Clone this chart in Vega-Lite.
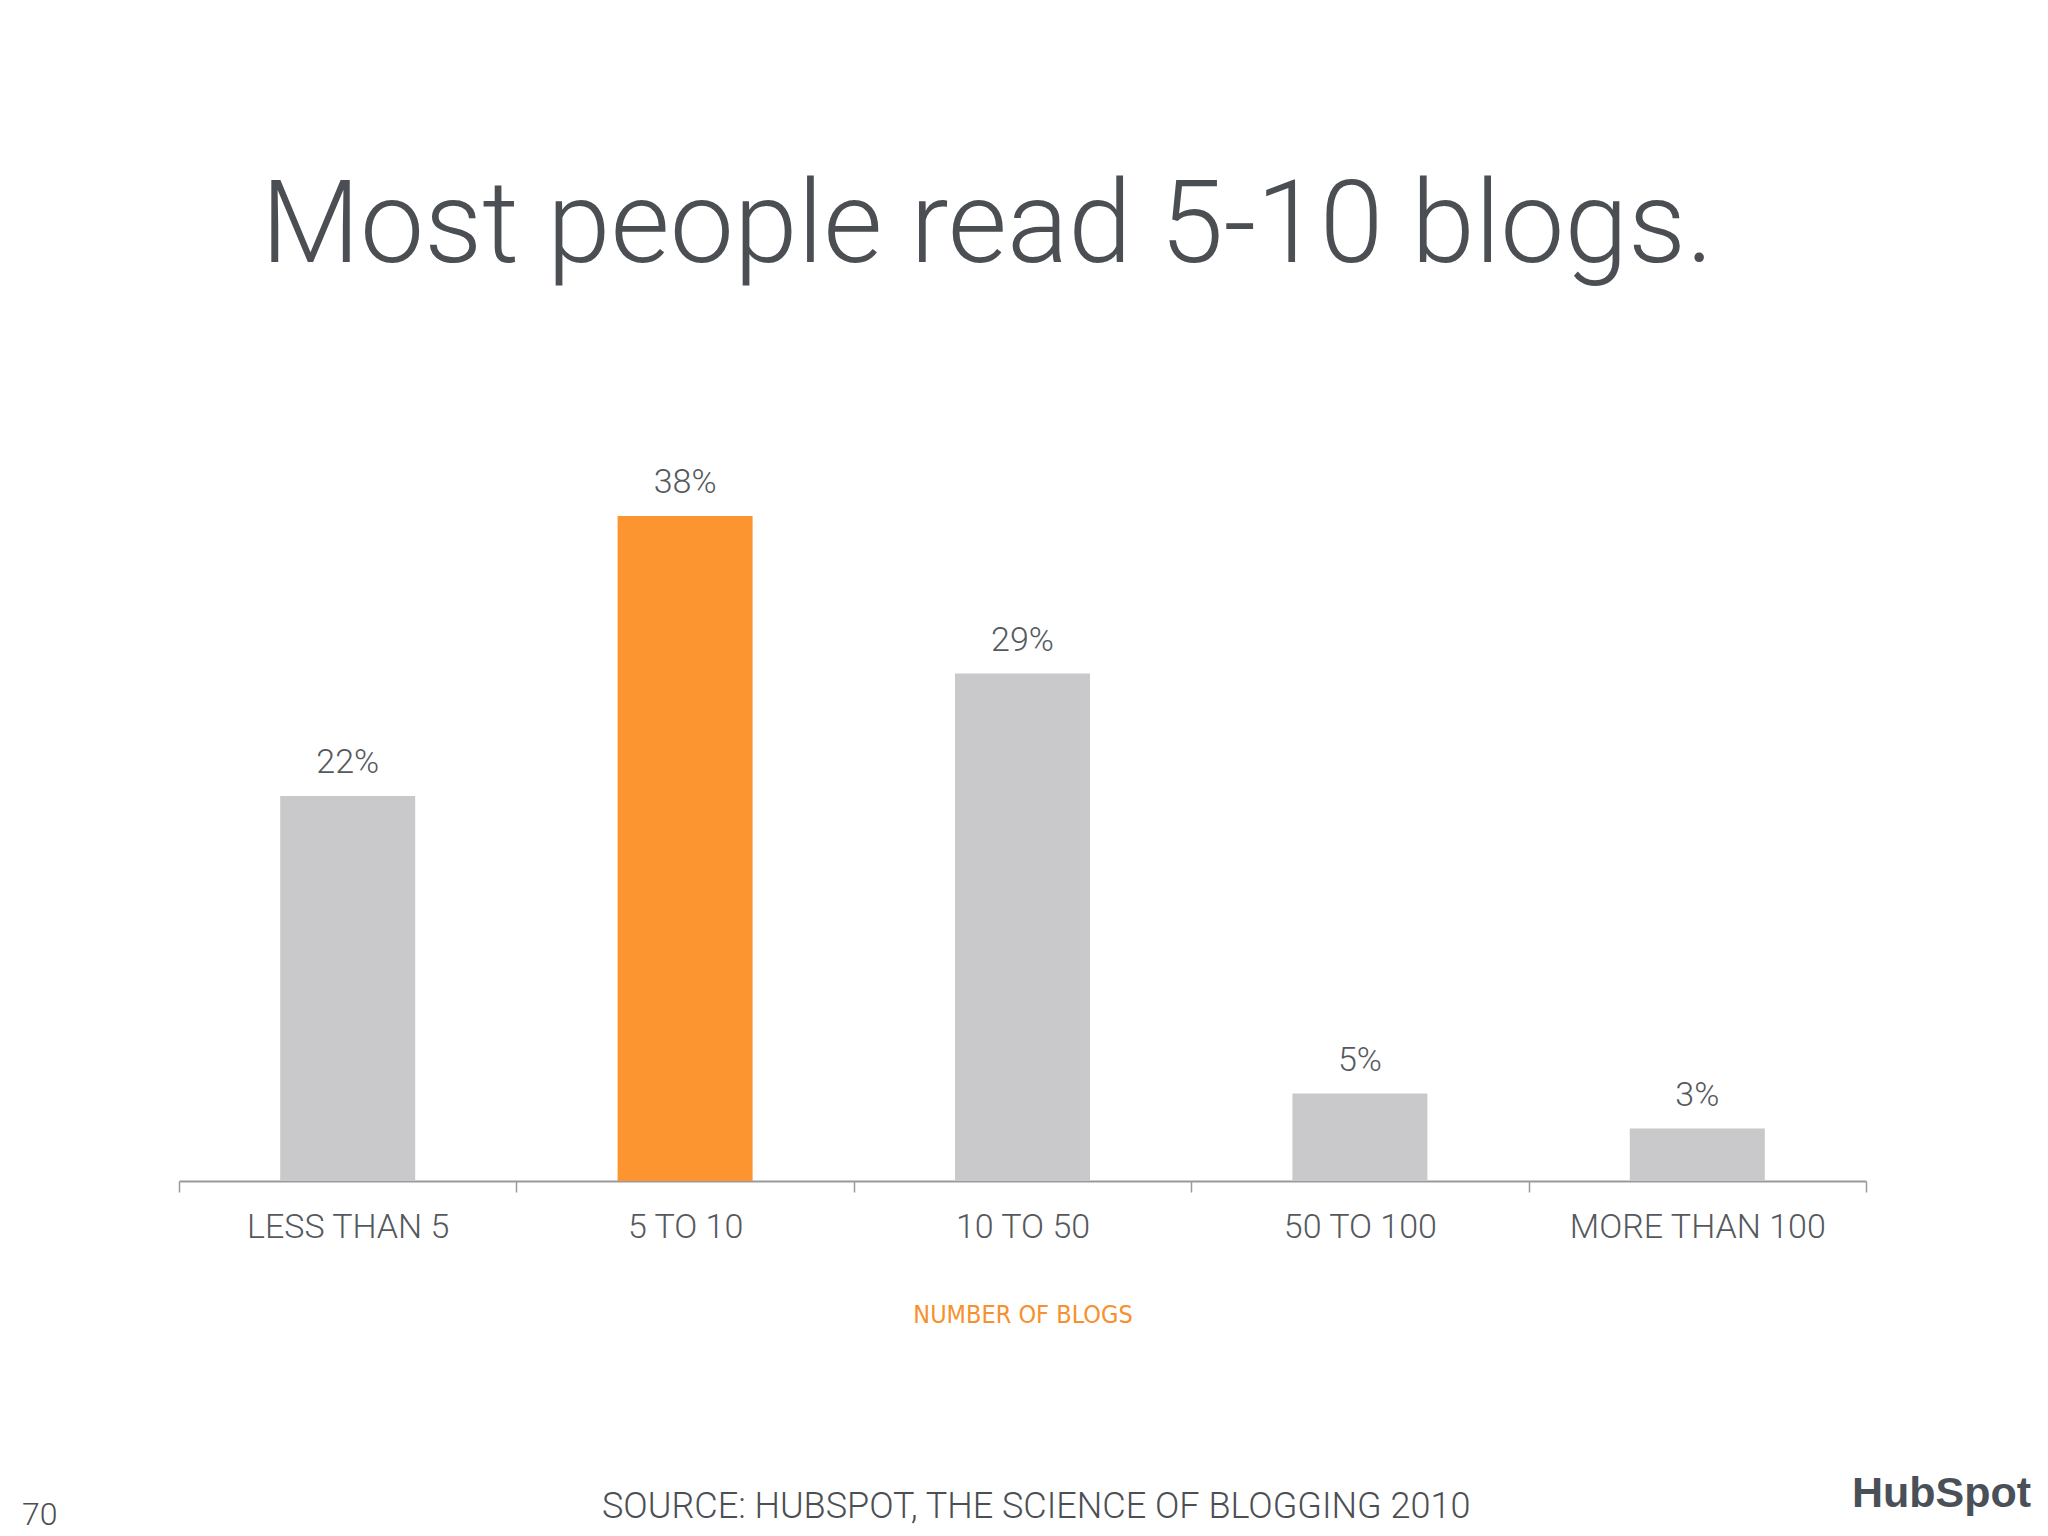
{
  "$schema": "https://vega.github.io/schema/vega-lite/v6.json",
  "background": "white",
  "padding": {"left": 22, "right": 16, "top": 169, "bottom": 5},
  "config": {"view": {"stroke": null}, "concat": {"spacing": 0}},
  "title": {"text": "Most people read 5-10 blogs.", "anchor": "start", "frame": "group", "dx": 82, "fontSize": 114.5, "font": "Roboto", "fontWeight": 300, "color": "#4b4f54", "baseline": "alphabetic", "offset": 90},
  "data": {"values": [
    {"cat": "LESS THAN 5", "value": 0.22},
    {"cat": "5 TO 10", "value": 0.38},
    {"cat": "10 TO 50", "value": 0.29},
    {"cat": "50 TO 100", "value": 0.05},
    {"cat": "MORE THAN 100", "value": 0.03}
  ]},
  "vconcat": [{
    "title": {"text": "SOURCE: HUBSPOT, THE SCIENCE OF BLOGGING 2010", "orient": "bottom", "anchor": "start", "frame": "group", "fontSize": 36, "font": "Roboto", "fontWeight": 300, "color": "#4b4f54", "baseline": "alphabetic", "offset": -13, "dx": 423},
    "vconcat": [{
      "title": {"text": "70", "orient": "bottom", "anchor": "start", "frame": "group", "fontSize": 32, "font": "Roboto", "fontWeight": 300, "color": "#4b4f54", "baseline": "alphabetic", "offset": 9, "dx": -157},
      "vconcat": [{
        "title": {"text": "HubSpot", "orient": "bottom", "anchor": "end", "frame": "group", "fontSize": 43, "font": "Liberation Sans", "fontWeight": "bold", "color": "#4a5058", "baseline": "alphabetic", "offset": 180, "dx": 165},
        "width": 1687,
        "height": 700,
        "encoding": {
          "x": {"field": "cat", "type": "nominal", "sort": null,
            "scale": {"paddingInner": 0, "paddingOuter": 0},
            "axis": {"title": "NUMBER OF BLOGS", "titleFont": "DejaVu Sans Condensed", "titleFontSize": 25, "titleFontWeight": "normal", "titleColor": "#F7902E", "titlePadding": 58,
              "labelAngle": 0, "labelLimit": 0, "labelFont": "Roboto", "labelFontWeight": 300, "labelFontSize": 34, "labelColor": "#55595e", "labelBaseline": "alphabetic", "labelPadding": 45,
              "tickBand": "extent", "tickSize": 11, "tickColor": "#9a9a9a", "tickWidth": 1.5, "domainColor": "#9a9a9a", "domainWidth": 2}},
          "y": {"field": "value", "type": "quantitative", "scale": {"domain": [0, 0.4]}, "axis": null}
        },
        "layer": [
          {"mark": {"type": "bar", "size": 135},
           "encoding": {"color": {"condition": {"test": "datum.cat === '5 TO 10'", "value": "#FC9430"}, "value": "#C9C8CA"}}},
          {"mark": {"type": "text", "dy": -23, "baseline": "alphabetic", "font": "Roboto", "fontWeight": 300, "fontSize": 34, "color": "#55595e"},
           "encoding": {"text": {"field": "value", "type": "quantitative", "format": ".0%"}}}
        ]
      }]
    }]
  }]
}
